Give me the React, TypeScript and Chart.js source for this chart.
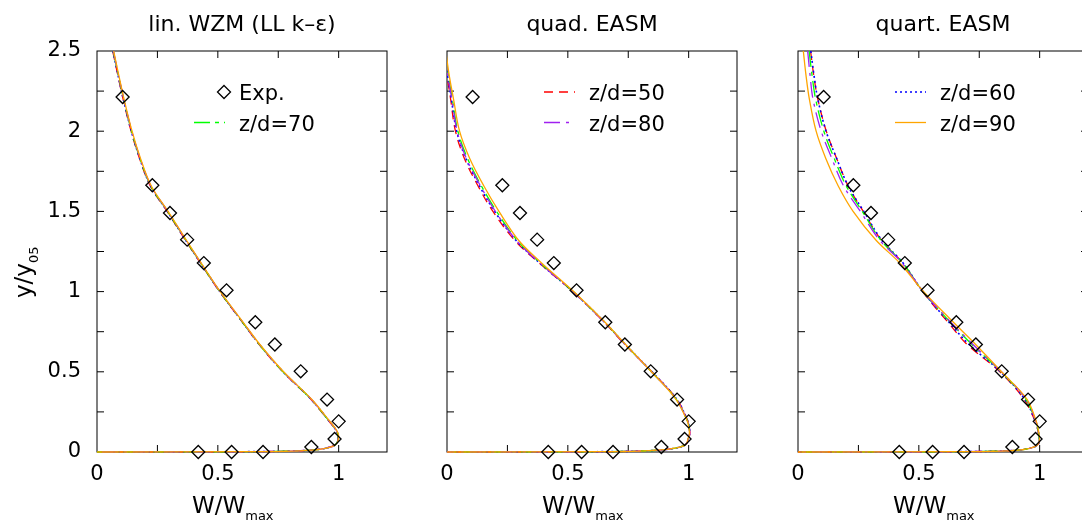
import React, { useEffect, useRef } from 'react';
import { Chart, registerables } from 'chart.js';

Chart.register(...registerables);

// ---------------- data ----------------
const panelTitles = ['lin. WZM (LL k\u2013\u03b5)', 'quad. EASM', 'quart. EASM'];

const xTickValues = [0, 0.5, 1];
const yTickValues = [0, 0.5, 1, 1.5, 2, 2.5];
const xFrameTicks = [0.25, 0.5, 0.75, 1];
const yFrameTicks = [0.25, 0.5, 0.75, 1, 1.25, 1.5, 1.75, 2, 2.25];

const seriesLabels = ['z/d=50', 'z/d=60', 'z/d=70', 'z/d=80', 'z/d=90'];
const seriesColors = ['#ff0000', '#0000ff', '#00ff00', '#a020f0', '#ffa500'];
const seriesDashes = [[9, 6], [2, 3], [16, 5, 4, 5], [16, 6, 3, 6], []];

// experimental data (same in every panel)
const expW = [0.106, 0.229, 0.302, 0.373, 0.442, 0.536, 0.655, 0.736, 0.843, 0.952, 1.0, 0.983, 0.887, 0.687, 0.557, 0.419];
const expY = [2.213, 1.663, 1.49, 1.324, 1.178, 1.008, 0.809, 0.67, 0.503, 0.327, 0.191, 0.081, 0.031, 0.0, 0.0, 0.0];

// common y/y05 grid of computed profiles
const yGrid = [2.5, 2.35, 2.2, 2.0, 1.83, 1.66, 1.5, 1.32, 1.18, 1.0, 0.81, 0.67, 0.5, 0.33, 0.19, 0.15, 0.115, 0.08, 0.05, 0.03, 0.015, 0.006, 0.002, 0];

// lin. WZM (LL k-eps)
const linZd50 = [0.065, 0.086, 0.108, 0.141, 0.176, 0.220, 0.290, 0.366, 0.427, 0.507, 0.601, 0.671, 0.769, 0.884, 0.961, 0.982, 0.995, 0.997, 0.988, 0.963, 0.908, 0.80, 0.62, 0];
const linZd60 = [0.066, 0.087, 0.109, 0.142, 0.177, 0.221, 0.291, 0.367, 0.428, 0.508, 0.602, 0.672, 0.770, 0.885, 0.962, 0.983, 0.996, 0.998, 0.989, 0.964, 0.909, 0.80, 0.62, 0];
const linZd70 = [0.067, 0.088, 0.110, 0.143, 0.178, 0.222, 0.292, 0.368, 0.428, 0.508, 0.602, 0.672, 0.770, 0.885, 0.962, 0.983, 0.996, 0.998, 0.989, 0.965, 0.910, 0.80, 0.62, 0];
const linZd80 = [0.068, 0.089, 0.111, 0.144, 0.179, 0.223, 0.293, 0.369, 0.429, 0.509, 0.603, 0.673, 0.771, 0.886, 0.963, 0.984, 0.997, 0.998, 0.990, 0.966, 0.911, 0.81, 0.63, 0];
const linZd90 = [0.069, 0.090, 0.112, 0.145, 0.180, 0.224, 0.294, 0.370, 0.430, 0.510, 0.604, 0.674, 0.772, 0.887, 0.964, 0.985, 0.998, 0.999, 0.990, 0.966, 0.911, 0.81, 0.63, 0];

// quad. EASM
const quadZd50 = [-0.012, 0.0, 0.015, 0.035, 0.072, 0.128, 0.19, 0.28, 0.38, 0.52, 0.65, 0.736, 0.848, 0.95, 0.998, 1.003, 1.005, 0.999, 0.99, 0.963, 0.9, 0.8, 0.62, 0];
const quadZd60 = [-0.011, 0.002, 0.018, 0.04, 0.078, 0.134, 0.197, 0.285, 0.382, 0.521, 0.652, 0.738, 0.848, 0.95, 0.997, 1.003, 1.004, 0.998, 0.99, 0.963, 0.9, 0.8, 0.62, 0];
const quadZd70 = [-0.008, 0.005, 0.022, 0.045, 0.085, 0.142, 0.205, 0.29, 0.385, 0.522, 0.652, 0.738, 0.846, 0.948, 0.996, 1.002, 1.004, 0.998, 0.99, 0.963, 0.9, 0.8, 0.62, 0];
const quadZd80 = [-0.01, 0.003, 0.02, 0.042, 0.08, 0.138, 0.2, 0.287, 0.383, 0.521, 0.651, 0.737, 0.846, 0.948, 0.996, 1.002, 1.004, 0.998, 0.99, 0.963, 0.9, 0.8, 0.62, 0];
const quadZd90 = [-0.005, 0.009, 0.027, 0.052, 0.094, 0.152, 0.215, 0.296, 0.39, 0.524, 0.653, 0.739, 0.846, 0.947, 0.995, 1.001, 1.003, 0.997, 0.99, 0.963, 0.9, 0.8, 0.62, 0];

// quart. EASM
const quartZd50 = [0.052, 0.065, 0.082, 0.117, 0.16, 0.207, 0.27, 0.345, 0.432, 0.515, 0.62, 0.70, 0.835, 0.935, 0.982, 0.99, 0.995, 0.998, 0.995, 0.975, 0.93, 0.84, 0.66, 0];
const quartZd60 = [0.053, 0.066, 0.082, 0.116, 0.16, 0.207, 0.272, 0.347, 0.434, 0.517, 0.624, 0.708, 0.838, 0.938, 0.983, 0.991, 0.996, 0.998, 0.995, 0.975, 0.93, 0.84, 0.66, 0];
const quartZd70 = [0.046, 0.058, 0.073, 0.107, 0.15, 0.199, 0.266, 0.343, 0.433, 0.517, 0.63, 0.72, 0.84, 0.942, 0.984, 0.992, 0.996, 0.998, 0.995, 0.975, 0.93, 0.84, 0.66, 0];
const quartZd80 = [0.04, 0.05, 0.062, 0.096, 0.14, 0.188, 0.258, 0.338, 0.43, 0.518, 0.632, 0.724, 0.842, 0.944, 0.985, 0.992, 0.996, 0.998, 0.995, 0.975, 0.93, 0.84, 0.66, 0];
const quartZd90 = [0.022, 0.033, 0.047, 0.075, 0.115, 0.166, 0.228, 0.323, 0.42, 0.52, 0.642, 0.735, 0.842, 0.947, 0.986, 0.993, 0.997, 0.999, 0.995, 0.975, 0.93, 0.84, 0.66, 0];

const panelSeries = [
  [linZd50, linZd60, linZd70, linZd80, linZd90],
  [quadZd50, quadZd60, quadZd70, quadZd80, quadZd90],
  [quartZd50, quartZd60, quartZd70, quartZd80, quartZd90],
];

// legend entries per panel: -1 = Exp., otherwise series index
const panelLegend = [[-1, 2], [0, 3], [1, 4]];

// ---------------- layout ----------------
const FONT = '"DejaVu Sans", "Liberation Sans", Arial, sans-serif';
const CANVAS_W = 1100;
const CANVAS_H = 524;
const PLOT_LEFT = [97, 447, 798];
const PLOT_W = 290;
const PLOT_TOP = 51;
const PLOT_BOTTOM = 452;
const TICK_LEN = 7;

function makePlugin(panel: number) {
  return {
    id: 'panelDeco' + panel,
    beforeDatasetsDraw(chart: any) {
      const { ctx, chartArea: a, scales } = chart;
      ctx.save();
      ctx.strokeStyle = '#000';
      ctx.lineWidth = 1;
      ctx.setLineDash([]);
      ctx.strokeRect(a.left, a.top, a.right - a.left, a.bottom - a.top);
      ctx.beginPath();
      for (const v of xFrameTicks) {
        const px = scales.x.getPixelForValue(v);
        ctx.moveTo(px, a.bottom);
        ctx.lineTo(px, a.bottom - TICK_LEN);
        ctx.moveTo(px, a.top);
        ctx.lineTo(px, a.top + TICK_LEN);
      }
      for (const v of yFrameTicks) {
        const py = scales.y.getPixelForValue(v);
        ctx.moveTo(a.left, py);
        ctx.lineTo(a.left + TICK_LEN, py);
        ctx.moveTo(a.right, py);
        ctx.lineTo(a.right - TICK_LEN, py);
      }
      ctx.stroke();
      ctx.restore();
    },
    afterDraw(chart: any) {
      const { ctx, chartArea: a } = chart;
      ctx.save();
      ctx.fillStyle = '#000';
      // title
      ctx.font = `22px ${FONT}`;
      ctx.textAlign = 'center';
      ctx.textBaseline = 'alphabetic';
      ctx.fillText(panelTitles[panel], (a.left + a.right) / 2, 31);
      // x label
      ctx.textAlign = 'left';
      ctx.font = `23px ${FONT}`;
      const xl = a.left + 95;
      ctx.fillText('W/W', xl, 513);
      const w1 = ctx.measureText('W/W').width;
      ctx.font = `13px ${FONT}`;
      ctx.fillText('max', xl + w1, 520);
      // y label
      if (panel === 0) {
        ctx.save();
        ctx.translate(31, 298);
        ctx.rotate(-Math.PI / 2);
        ctx.font = `23px ${FONT}`;
        ctx.fillText('y/y', 0, 0);
        const w2 = ctx.measureText('y/y').width;
        ctx.font = `13px ${FONT}`;
        ctx.fillText('05', w2, 7);
        ctx.restore();
      }
      // legend
      const rows = panelLegend[panel];
      const markY = [92, 122.5];
      const textY = [100, 130.5];
      rows.forEach((entry, r) => {
        ctx.save();
        if (entry < 0) {
          const cx = a.left + 127;
          const cy = markY[r];
          ctx.strokeStyle = '#000';
          ctx.lineWidth = 1.3;
          ctx.beginPath();
          ctx.moveTo(cx, cy - 6.5);
          ctx.lineTo(cx + 6.5, cy);
          ctx.lineTo(cx, cy + 6.5);
          ctx.lineTo(cx - 6.5, cy);
          ctx.closePath();
          ctx.stroke();
        } else {
          ctx.strokeStyle = seriesColors[entry];
          ctx.lineWidth = entry === 1 ? 1.6 : 1.3;
          ctx.setLineDash(seriesDashes[entry]);
          ctx.beginPath();
          ctx.moveTo(a.left + 97, markY[r]);
          ctx.lineTo(a.left + 128, markY[r]);
          ctx.stroke();
        }
        ctx.restore();
        ctx.font = `21px ${FONT}`;
        ctx.fillStyle = '#000';
        ctx.textAlign = 'left';
        ctx.textBaseline = 'alphabetic';
        ctx.fillText(entry < 0 ? 'Exp.' : seriesLabels[entry], a.left + 142, textY[r]);
      });
      ctx.restore();
    },
  };
}

function buildConfig(panel: number): any {
  const lines = panelSeries[panel].map((xs, i) => ({
    label: seriesLabels[i],
    data: xs.map((x, k) => ({ x, y: yGrid[k] })),
    showLine: true,
    borderColor: seriesColors[i],
    backgroundColor: seriesColors[i],
    borderWidth: i === 1 ? 1.6 : 1.3,
    borderDash: seriesDashes[i],
    pointRadius: 0,
    tension: 0.35,
    fill: false,
    clip: { left: 0, top: 0, right: 0, bottom: 2 },
  }));
  const exp = {
    label: 'Exp.',
    data: expW.map((x, k) => ({ x, y: expY[k] })),
    showLine: false,
    pointStyle: 'rectRot',
    pointRadius: 6.5,
    pointBorderColor: '#000',
    pointBackgroundColor: 'rgba(0,0,0,0)',
    pointBorderWidth: 1.3,
    borderColor: '#000',
    clip: false,
  };
  const left = PLOT_LEFT[panel];
  return {
    type: 'scatter',
    data: { datasets: [exp, ...lines.slice().reverse()] },
    options: {
      animation: false,
      responsive: false,
      events: [],
      layout: {
        padding: {
          left: 0,
          top: PLOT_TOP,
          right: CANVAS_W - left - PLOT_W,
          bottom: 0,
        },
      },
      plugins: { legend: { display: false }, tooltip: { enabled: false }, title: { display: false } },
      scales: {
        x: {
          type: 'linear',
          min: 0,
          max: 1.2,
          grid: { display: false, drawTicks: false },
          border: { display: false },
          afterBuildTicks: (s: any) => {
            s.ticks = xTickValues.map((v) => ({ value: v }));
          },
          afterFit: (s: any) => {
            s.height = CANVAS_H - PLOT_BOTTOM;
          },
          ticks: {
            padding: 10,
            color: '#000',
            font: { family: FONT, size: 21 },
            maxRotation: 0,
            autoSkip: false,
            callback: (v: any) => String(v),
          },
        },
        y: {
          type: 'linear',
          min: 0,
          max: 2.5,
          grid: { display: false, drawTicks: false },
          border: { display: false },
          afterBuildTicks: (s: any) => {
            s.ticks = yTickValues.map((v) => ({ value: v }));
          },
          afterFit: (s: any) => {
            s.width = left;
          },
          ticks: {
            display: panel === 0,
            padding: 16,
            color: '#000',
            autoSkip: false,
            font: { family: FONT, size: 21 },
            callback: (v: any) => String(v),
          },
        },
      },
    },
    plugins: [makePlugin(panel)],
  };
}

export default function App() {
  const r0 = useRef<HTMLCanvasElement>(null);
  const r1 = useRef<HTMLCanvasElement>(null);
  const r2 = useRef<HTMLCanvasElement>(null);

  useEffect(() => {
    const refs = [r0, r1, r2];
    const charts = refs.map((r, i) => new Chart(r.current as HTMLCanvasElement, buildConfig(i)));
    return () => charts.forEach((c) => c.destroy());
  }, []);

  const cStyle: React.CSSProperties = {
    position: 'absolute',
    left: 0,
    top: 0,
    width: CANVAS_W,
    height: CANVAS_H,
  };

  return (
    <div
      style={{
        position: 'fixed',
        left: 0,
        top: 0,
        width: 1082,
        height: 524,
        overflow: 'hidden',
        background: '#fff',
      }}
    >
      <canvas ref={r0} width={CANVAS_W} height={CANVAS_H} style={cStyle} />
      <canvas ref={r1} width={CANVAS_W} height={CANVAS_H} style={cStyle} />
      <canvas ref={r2} width={CANVAS_W} height={CANVAS_H} style={cStyle} />
    </div>
  );
}
